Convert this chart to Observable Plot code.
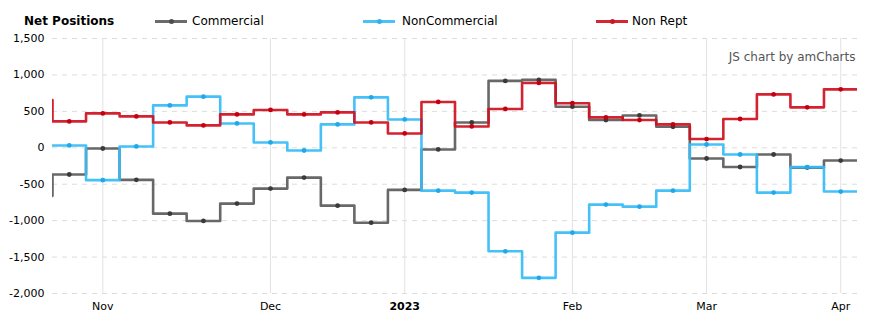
<!DOCTYPE html>
<html>
<head>
<meta charset="utf-8">
<script src="https://cdn.jsdelivr.net/npm/d3@7"></script>
<script src="https://cdn.jsdelivr.net/npm/@observablehq/plot@0.6"></script>
<style>
  html, body { margin: 0; padding: 0; background: #fff; }
  body { font-family: "DejaVu Sans", Verdana, sans-serif; width: 871px; height: 326px; overflow: hidden; }
  #legend { position: relative; height: 30px; width: 871px; font-size: 12px; color: #000; }
  #legend .t { position: absolute; top: 14px; line-height: 14px; white-space: nowrap; }
  #legend .mk { position: absolute; top: 20px; width: 32px; height: 3px; }
  #legend .mk i { position: absolute; left: 14px; top: -1px; width: 5px; height: 5px; border-radius: 50%; }
  #chart svg { display: block; }
</style>
</head>
<body>
<div id="legend"></div>
<div id="chart"></div>
<script>
// Weekly report dates (first one lies just left of the visible area)
const dates = ["2022-10-18","2022-10-25","2022-11-01","2022-11-08","2022-11-15","2022-11-22","2022-11-29",
  "2022-12-06","2022-12-13","2022-12-20","2022-12-27","2023-01-03","2023-01-10","2023-01-17","2023-01-24",
  "2023-01-31","2023-02-07","2023-02-14","2023-02-21","2023-02-28","2023-03-07","2023-03-14","2023-03-21",
  "2023-03-28","2023-04-04"];
const commercial = [-660,-367,-10,-440,-904,-1004,-766,-560,-409,-794,-1028,-578,-23,348,918,932,564,381,444,289,-147,-264,-92,-272,-175];
const nonCommercial = [32,32,-444,18,582,702,334,73,-37,321,692,389,-588,-615,-1421,-1785,-1165,-780,-808,-588,45,-92,-615,-266,-601];
const nonRept = [656,362,472,431,348,307,458,519,458,486,348,197,629,293,533,890,612,417,381,321,120,395,733,555,802];
const seriesNames = ["Commercial", "NonCommercial", "Non Rept"];
const seriesColors = ["#5b5b5b", "#35bcf7", "#d0101e"];
const dotColors = ["#3a3a3a", "#1fa8ea", "#c4000f"];
const tickDates = ["2022-11-01","2022-12-06","2023-01-03","2023-02-07","2023-03-07","2023-04-04"];
const tickLabels = ["Nov","Dec","2023","Feb","Mar","Apr"];
const yTicks = [-2000,-1500,-1000,-500,0,500,1000,1500];
const legendTitle = "Net Positions";
const credit = "JS chart by amCharts";

const DAY = 864e5;
const parsed = dates.map(d => new Date(d + "T00:00:00Z"));
const allValues = [commercial, nonCommercial, nonRept];

// point rows
const points = [];
allValues.forEach((vals, s) => vals.forEach((v, i) => points.push({series: seriesNames[s], date: parsed[i], value: v, idx: i})));
// step vertices: each value spans half a week either side of its date
const steps = [];
allValues.forEach((vals, s) => vals.forEach((v, i) => {
  steps.push({series: seriesNames[s], date: new Date(+parsed[i] - 3.5 * DAY), value: v});
  steps.push({series: seriesNames[s], date: new Date(+parsed[i] + 3.5 * DAY), value: v});
}));

const xDomain = [new Date(+parsed[1] - 3.5 * DAY), new Date(+parsed[parsed.length - 1] + 3.5 * DAY)];
const ticks = tickDates.map(d => new Date(d + "T00:00:00Z"));
const labelOf = new Map(ticks.map((t, i) => [+t, tickLabels[i]]));
const fmt = d => d.toLocaleString("en-US");

const marks = [
  Plot.gridY(yTicks, {stroke: "#dcdcdc", strokeOpacity: 1, strokeDasharray: "5,5"}),
  Plot.gridX(ticks, {stroke: "#e2e2e2", strokeOpacity: 1}),
  Plot.axisY(yTicks, {tickSize: 0, tickPadding: 8, tickFormat: fmt, fontSize: 11, fill: "#000", label: null}),
  Plot.axisX(ticks.filter(t => labelOf.get(+t) !== "2023"), {tickSize: 0, tickPadding: 9, tickFormat: t => labelOf.get(+t), fontSize: 11, fill: "#000", label: null}),
  Plot.axisX(ticks.filter(t => labelOf.get(+t) === "2023"), {tickSize: 0, tickPadding: 9, tickFormat: t => labelOf.get(+t), fontSize: 11, fontWeight: "bold", fill: "#000", label: null})
];
seriesNames.forEach((name, s) => {
  marks.push(Plot.line(steps.filter(d => d.series === name), {x: "date", y: "value", stroke: seriesColors[s], strokeWidth: 2.6, strokeOpacity: 0.92, clip: true}));
  marks.push(Plot.dot(points.filter(d => d.series === name && d.idx > 0), {x: "date", y: "value", r: 2.4, fill: dotColors[s], stroke: "none", clip: true}));
});
marks.push(Plot.text([credit], {frameAnchor: "top-right", textAnchor: "end", dx: -2, dy: 14, fontSize: 12, fill: "#555"}));

const chart = Plot.plot({
  width: 871,
  height: 296,
  marginTop: 8,
  marginBottom: 33,
  marginLeft: 52,
  marginRight: 14,
  style: {fontFamily: "'DejaVu Sans', Verdana, sans-serif", fontSize: "11px", background: "#fff", color: "#000"},
  x: {type: "utc", domain: xDomain, axis: null},
  y: {domain: [-2000, 1500], axis: null},
  marks
});
document.getElementById("chart").appendChild(chart);

// legend
const legend = document.getElementById("legend");
const addText = (txt, left, bold) => {
  const el = document.createElement("div");
  el.className = "t"; el.style.left = left + "px"; el.textContent = txt;
  if (bold) el.style.fontWeight = "bold";
  legend.appendChild(el);
};
addText(legendTitle, 24, true);
const mkLeft = [155, 363, 596], txtLeft = [192, 402, 632];
seriesNames.forEach((name, s) => {
  const mk = document.createElement("div");
  mk.className = "mk"; mk.style.left = mkLeft[s] + "px"; mk.style.background = seriesColors[s]; mk.style.opacity = 0.9;
  const dot = document.createElement("i"); dot.style.background = dotColors[s];
  mk.appendChild(dot);
  legend.appendChild(mk);
  addText(name, txtLeft[s], false);
});
</script>
</body>
</html>
